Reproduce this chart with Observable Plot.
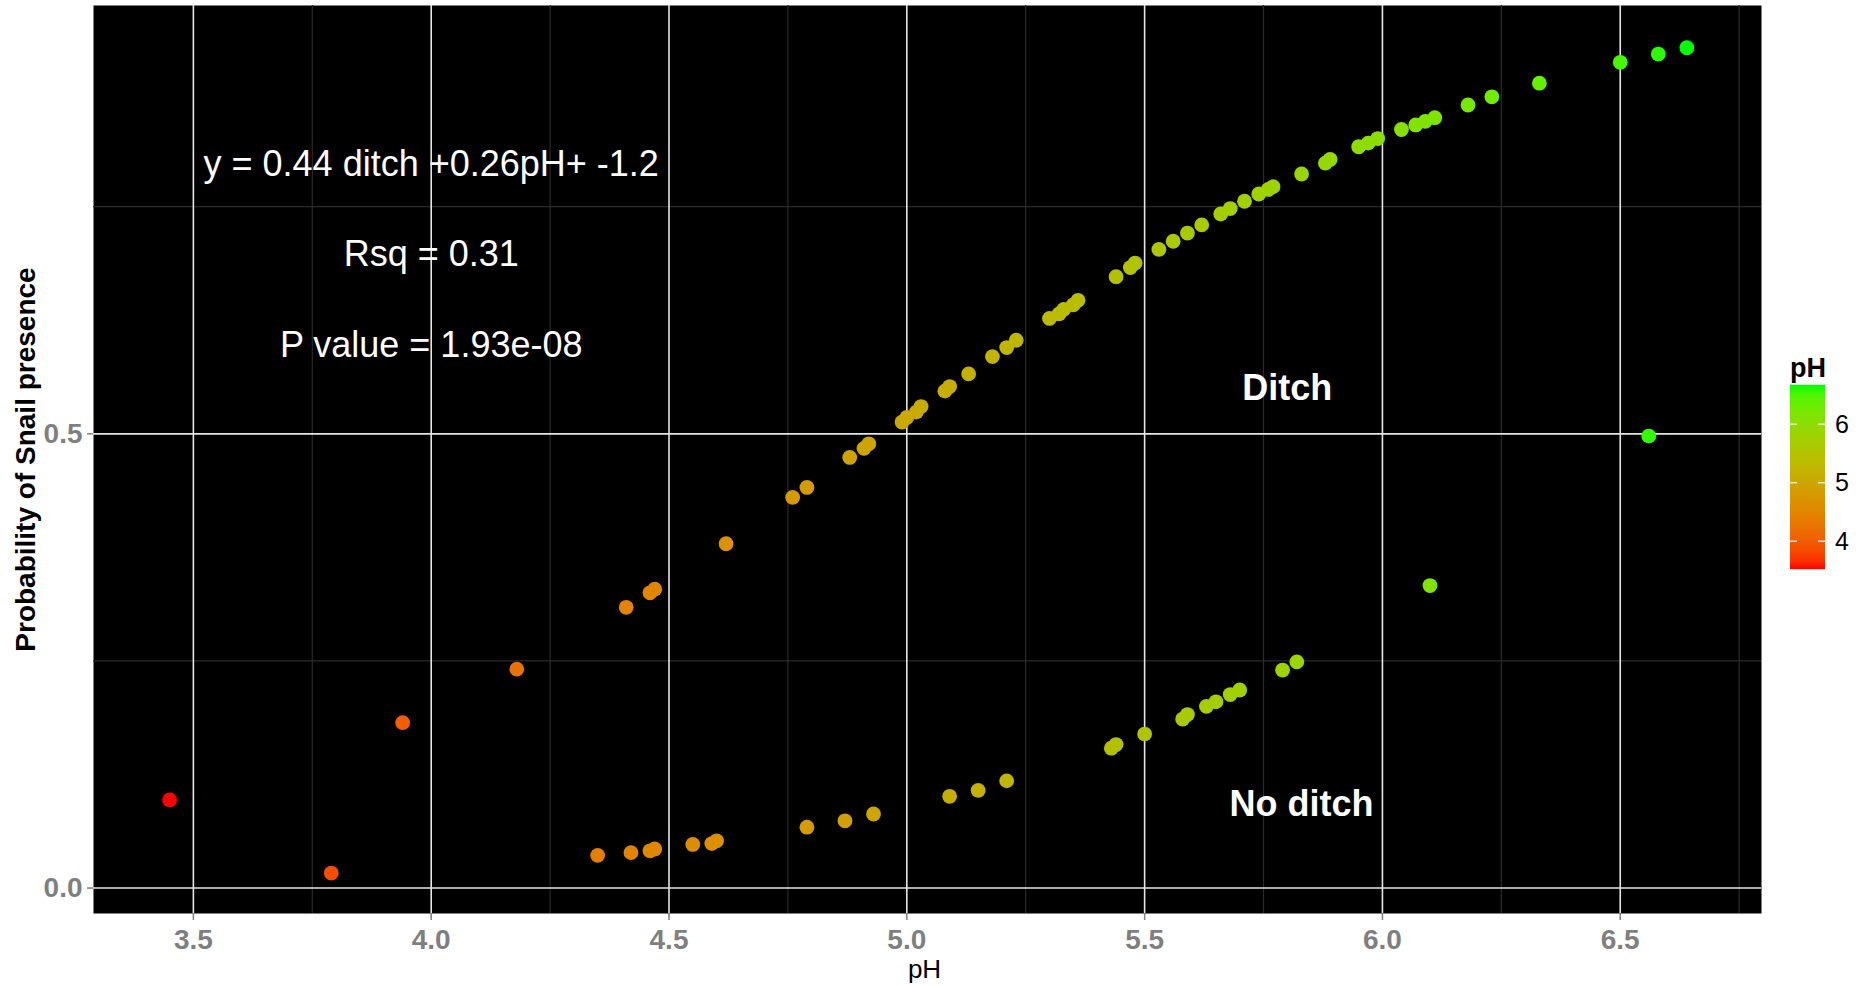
<!DOCTYPE html>
<html>
<head>
<meta charset="utf-8">
<script src="https://cdn.jsdelivr.net/npm/d3@7"></script>
<script src="https://cdn.jsdelivr.net/npm/@observablehq/plot@0.6"></script>
<style>
  body { margin: 0; background: #ffffff; }
  #chart svg { display: block; }
</style>
</head>
<body>
<div id="chart"></div>
<script>
// ---- data ----
const ditchPH = [3.45, 3.94, 4.18, 4.41, 4.46, 4.47, 4.62, 4.76, 4.79, 4.88, 4.91, 4.92,
  4.99, 5.00, 5.02, 5.03, 5.08, 5.09, 5.13, 5.18, 5.21, 5.23, 5.30, 5.32, 5.33, 5.35, 5.36,
  5.44, 5.47, 5.48, 5.53, 5.56, 5.59, 5.62, 5.66, 5.68, 5.71, 5.74, 5.76, 5.77, 5.83, 5.88,
  5.89, 5.95, 5.97, 5.99, 6.04, 6.07, 6.09, 6.11, 6.18, 6.23, 6.33, 6.50, 6.58, 6.64];
const ditchProb = [0.097, 0.182, 0.241, 0.309, 0.325, 0.329, 0.379, 0.430, 0.441, 0.474, 0.484, 0.489,
  0.513, 0.518, 0.524, 0.530, 0.547, 0.552, 0.566, 0.585, 0.595, 0.603, 0.627, 0.632, 0.637, 0.642, 0.647,
  0.673, 0.683, 0.688, 0.703, 0.712, 0.721, 0.730, 0.742, 0.748, 0.756, 0.764, 0.769, 0.772, 0.786, 0.798,
  0.802, 0.816, 0.820, 0.825, 0.835, 0.840, 0.844, 0.848, 0.862, 0.871, 0.886, 0.909, 0.918, 0.925];

const noDitchPH = [3.79, 4.35, 4.42, 4.46, 4.47, 4.55, 4.59, 4.60, 4.79, 4.87, 4.93, 5.09, 5.15, 5.21,
  5.43, 5.44, 5.50, 5.58, 5.59, 5.63, 5.65, 5.68, 5.70, 5.79, 5.82, 6.10, 6.56];
const noDitchProb = [0.0165, 0.036, 0.039, 0.041, 0.043, 0.048, 0.049, 0.052, 0.067, 0.074, 0.0815, 0.101, 0.1075, 0.118,
  0.154, 0.158, 0.1695, 0.186, 0.191, 0.200, 0.205, 0.213, 0.218, 0.240, 0.249, 0.333, 0.4975];

const xTicks = [3.5, 4.0, 4.5, 5.0, 5.5, 6.0, 6.5];
const xMinor = [3.75, 4.25, 4.75, 5.25, 5.75, 6.25, 6.75];
const yTicks = [0.0, 0.5];
const yMinor = [0.25, 0.75];
const legendTicks = [4, 5, 6];

const annoText = ["y = 0.44 ditch +0.26pH+ -1.2", "Rsq = 0.31", "P value = 1.93e-08"];
const annoX = [4.0, 4.0, 4.0];
const annoY = [0.797, 0.697, 0.597];
const groupText = ["Ditch", "No ditch"];
const groupX = [5.80, 5.83];
const groupY = [0.55, 0.092];

// ---- build table ----
const data = [
  ...ditchPH.map((p, i) => ({pH: p, prob: ditchProb[i], group: "Ditch"})),
  ...noDitchPH.map((p, i) => ({pH: p, prob: noDitchProb[i], group: "No ditch"}))
];

const font = "'Liberation Sans', Arial, Helvetica, sans-serif";
const colorOpts = {
  type: "linear",
  domain: d3.extent(data, d => d.pH),
  range: ["#FF0000", "#00FF00"],
  interpolate: d3.interpolateLab
};

const W = 1872, H = 986;
const mL = 93, mR = 111, mT = 5, mB = 73;

const chart = Plot.plot({
  width: W,
  height: H,
  marginLeft: mL,
  marginRight: mR,
  marginTop: mT,
  marginBottom: mB,
  style: {fontFamily: font, background: "white", overflow: "visible"},
  x: {domain: [3.29, 6.797]},
  y: {domain: [-0.028, 0.9715]},
  color: colorOpts,
  marks: [
    Plot.frame({fill: "black", stroke: null}),
    Plot.gridX({ticks: xMinor, stroke: "#2b2b2b", strokeOpacity: 1, strokeWidth: 1.2}),
    Plot.gridY({ticks: yMinor, stroke: "#2b2b2b", strokeOpacity: 1, strokeWidth: 1.2}),
    Plot.gridX({ticks: xTicks, stroke: "#e6e6e6", strokeOpacity: 1, strokeWidth: 1.6}),
    Plot.gridY({ticks: yTicks, stroke: "#e6e6e6", strokeOpacity: 1, strokeWidth: 1.6}),
    Plot.axisX({ticks: xTicks, tickFormat: d3.format(".1f"), tickSize: 7, tickPadding: 9,
      color: "#7f7f7f", strokeWidth: 1.5, fontSize: 28, fontWeight: "bold", label: null}),
    Plot.axisY({ticks: yTicks, tickFormat: d3.format(".1f"), tickSize: 6, tickPadding: 5,
      color: "#7f7f7f", strokeWidth: 1.5, fontSize: 28, fontWeight: "bold", label: null}),
    Plot.dot(data, {x: "pH", y: "prob", fill: "pH", r: 7.4, stroke: null}),
    Plot.text(annoText, {x: annoX, y: annoY, text: d => d, fill: "white", fontSize: 36,
      textAnchor: "middle", lineAnchor: "middle"}),
    Plot.text(groupText, {x: groupX, y: groupY, text: d => d, fill: "white", fontSize: 36,
      fontWeight: "bold", textAnchor: "middle", lineAnchor: "middle"}),
    Plot.text(["Probability of Snail presence"], {frameAnchor: "left", rotate: -90, dx: -67,
      textAnchor: "middle", lineAnchor: "middle", fontWeight: "bold", fontSize: 28, fill: "black"}),
    Plot.text(["pH"], {frameAnchor: "bottom", dx: -3, dy: 56.4, textAnchor: "middle",
      lineAnchor: "middle", fontSize: 26, fill: "black"})
  ]
});

document.getElementById("chart").appendChild(chart);

// ---- vertical colourbar legend ----
const colorScale = Plot.scale({color: colorOpts});
const svg = d3.select(chart);
const barX = 1790, barW = 35;
const legY = d3.scaleLinear().domain([5, 6]).range([482.7, 424.2]);
const barTop = legY(6.673), barBot = legY(3.521);

const grad = svg.append("defs").append("linearGradient")
  .attr("id", "phGrad").attr("x1", 0).attr("y1", 1).attr("x2", 0).attr("y2", 0);
const dom = colorOpts.domain;
d3.range(0, 1.0001, 0.05).forEach(t => {
  grad.append("stop").attr("offset", t)
    .attr("stop-color", colorScale.apply(dom[0] + t * (dom[1] - dom[0])));
});

const leg = svg.append("g").attr("font-family", font).attr("text-anchor", "start");
leg.append("rect").attr("x", barX).attr("y", barTop).attr("width", barW)
  .attr("height", barBot - barTop).attr("fill", "url(#phGrad)");
legendTicks.forEach(v => {
  const y = legY(v);
  leg.append("line").attr("x1", barX).attr("x2", barX + 7).attr("y1", y).attr("y2", y)
    .attr("stroke", "white").attr("stroke-width", 1.2);
  leg.append("line").attr("x1", barX + barW - 7).attr("x2", barX + barW).attr("y1", y).attr("y2", y)
    .attr("stroke", "white").attr("stroke-width", 1.2);
  leg.append("text").attr("x", barX + barW + 10).attr("y", y).attr("dy", "0.35em")
    .attr("text-anchor", "start").attr("font-size", 25).attr("fill", "black").text(v);
});
leg.append("text").attr("x", barX).attr("y", 377).attr("font-size", 27)
  .attr("text-anchor", "start").attr("font-weight", "bold").attr("fill", "black").text("pH");
</script>
</body>
</html>
